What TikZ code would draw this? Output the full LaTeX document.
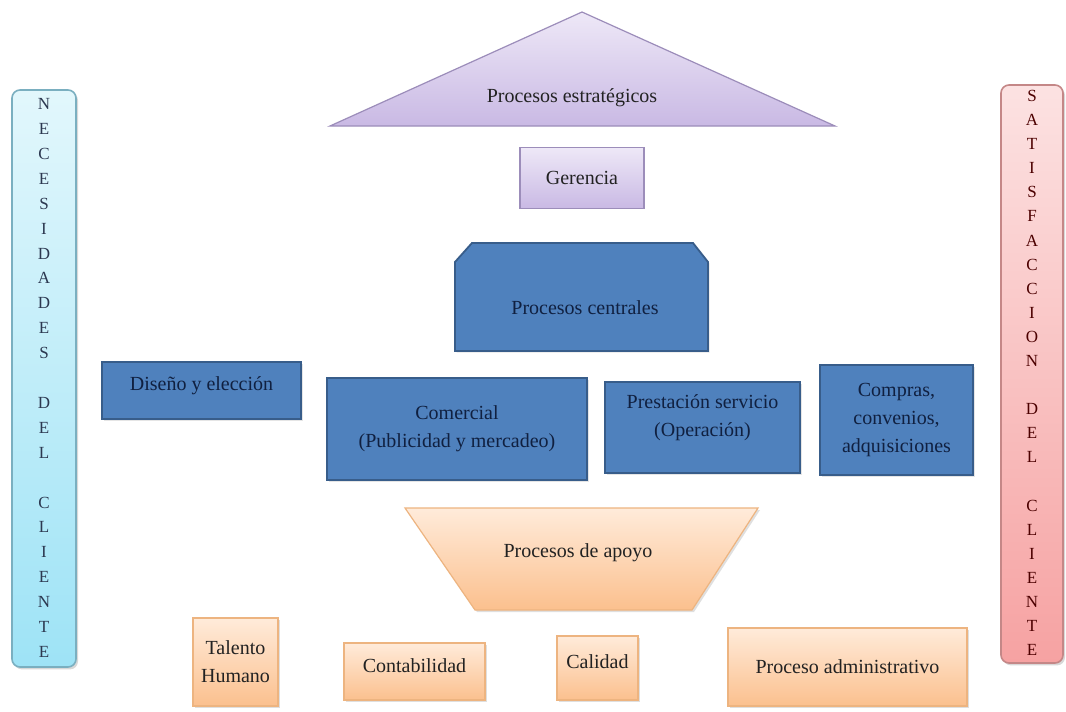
\documentclass[tikz,border=0pt]{standalone}
\usepackage{fontspec}
\setmainfont{Liberation Serif}
\usetikzlibrary{shadows}
\definecolor{lavtop}{HTML}{EEE8F7}
\definecolor{lavbot}{HTML}{C9B9E4}
\definecolor{lavline}{HTML}{9C8DBA}
\definecolor{bluefill}{HTML}{4F81BD}
\definecolor{blueline}{HTML}{385D8A}
\definecolor{bluetext}{HTML}{102040}
\definecolor{peachtop}{HTML}{FFEBDA}
\definecolor{peachbot}{HTML}{FBC08E}
\definecolor{peachline}{HTML}{EDB480}
\definecolor{cyantop}{HTML}{E2F7FC}
\definecolor{cyanbot}{HTML}{9EE3F6}
\definecolor{cyanline}{HTML}{7AAFC0}
\definecolor{pinktop}{HTML}{FCE2E2}
\definecolor{pinkbot}{HTML}{F6A2A2}
\definecolor{pinkline}{HTML}{C48787}
\definecolor{textdark}{HTML}{222222}
\tikzset{boxsize/.style 2 args = {minimum width=#1*0.5pt, minimum height=#2*0.5pt}}
\tikzset{txt/.style = {font=\fontsize{10}{14}\selectfont, align=center, text=textdark, inner sep=0pt}}
\tikzset{lavbox/.style = {txt, draw=lavline, top color=lavtop, bottom color=lavbot, line width=0.6pt}}
\tikzset{bluebox/.style = {txt, text=bluetext, draw=blueline, fill=bluefill, line width=0.9pt,
  drop shadow={opacity=0.2, shadow xshift=0.8pt, shadow yshift=-0.8pt}}}
\tikzset{peachbox/.style = {txt, draw=peachline, top color=peachtop, bottom color=peachbot, line width=0.6pt,
  drop shadow={opacity=0.25, shadow xshift=1pt, shadow yshift=-1pt}}}
\tikzset{sidebar/.style = {rounded corners=4pt, line width=0.8pt,
  drop shadow={opacity=0.3, shadow xshift=1pt, shadow yshift=-1.2pt}}}
\tikzset{vletters/.style = {align=center, inner sep=0pt, font=\fontsize{8.5}{#1}\selectfont}}

\begin{document}
\begin{tikzpicture}[x=0.5pt, y=-0.5pt]
\useasboundingbox[fill=white] (0,0) rectangle (1066,712);

% side bars
\path[sidebar, draw=cyanline, top color=cyantop, bottom color=cyanbot] (12,90) rectangle (76,667);
\node[vletters=12.45pt, text=bluetext!75!gray] (necesidades) at (44,378)
  {N\\E\\C\\E\\S\\I\\D\\A\\D\\E\\S\\~\\D\\E\\L\\~\\C\\L\\I\\E\\N\\T\\E};
\path[sidebar, draw=pinkline, top color=pinktop, bottom color=pinkbot] (1001,85) rectangle (1063,663);
\node[vletters=12.05pt, text=red!30!black] (satisfaccion) at (1032,373)
  {S\\A\\T\\I\\S\\F\\A\\C\\C\\I\\O\\N\\~\\D\\E\\L\\~\\C\\L\\I\\E\\N\\T\\E};

% strategic processes
\path[lavbox] (582,12) -- (835,126) -- (330,126) -- cycle;
\node[txt] (estrategicos) at (572,98) {Procesos estratégicos};
\node[lavbox, boxsize={124}{61}] (gerencia) at (582,178) {Gerencia};

% core processes
\path[bluebox] (455,351) -- (455,262) -- (472,243) -- (693,243) -- (708,262) -- (708,351) -- cycle;
\node[txt, text=bluetext] (centrales) at (585,308) {Procesos centrales};
\node[bluebox, boxsize={199}{57}, text depth=6.5pt] (diseno) at (201.5,390.5) {Diseño y elección};
\node[bluebox, boxsize={260}{102}] (comercial) at (457,429) {Comercial\\(Publicidad y mercadeo)};
\node[bluebox, boxsize={195}{91}, text depth=12pt] (prestacion) at (702.5,427.5) {Prestación servicio\\(Operación)};
\node[bluebox, boxsize={153}{110}] (compras) at (896.5,420) {Compras,\\convenios,\\adquisiciones};

% support processes
\path[peachbox] (405,508) -- (758,508) -- (692,610) -- (475,610) -- cycle;
\node[txt] (apoyo) at (578,553) {Procesos de apoyo};
\node[peachbox, boxsize={85}{88}] (talento) at (235.5,662) {Talento\\Humano};
\node[peachbox, boxsize={141}{57}, text depth=6pt] (contabilidad) at (414.5,671.5) {Contabilidad};
\node[peachbox, boxsize={81}{64}, text depth=6pt] (calidad) at (597.5,668) {Calidad};
\node[peachbox, boxsize={239}{78}] (administrativo) at (847.5,667) {Proceso administrativo};
\end{tikzpicture}
\end{document}
